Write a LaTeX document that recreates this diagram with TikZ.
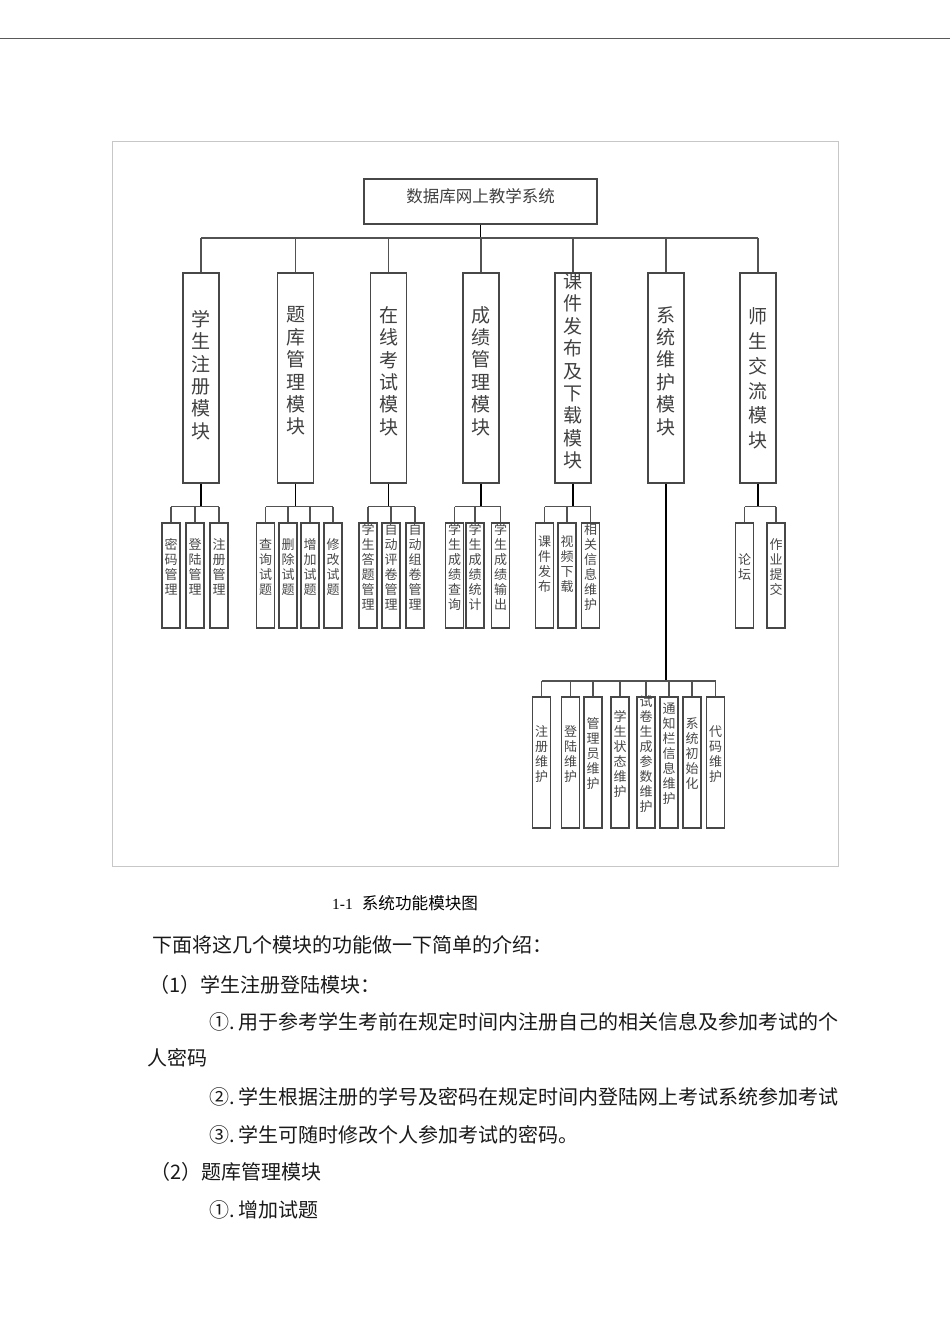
\documentclass[tikz,border=0pt]{standalone}
\usepackage{fontspec}
\setmainfont{Noto Sans CJK SC}
\newfontfamily\tnr{Liberation Serif}
\XeTeXlinebreaklocale "zh"
\XeTeXlinebreakskip=0pt plus 1pt
\tikzset{
  boxline/.style={draw=black!72, line width=1.3pt},
  titlebox/.style={boxline, minimum width=233pt, minimum height=45pt, inner sep=0pt,
    font=\fontsize{16.5}{18}\selectfont, text=black!75, text depth=12pt},
  modbox/.style={boxline, minimum width=36pt, minimum height=210pt, inner sep=0pt},
  modtext/.style={inner sep=0pt, text width=22pt, align=center,
    font=\fontsize{19}{22.4}\selectfont, text=black!75},
  leafbox/.style={boxline, line width=1.2pt, minimum width=18pt, inner sep=0pt},
  leaftext/.style={inner sep=0pt, text width=15pt, align=center,
    font=\fontsize{13}{15}\selectfont, text=black!72},
  thinline/.style={draw=black!68, line width=1.3pt},
  stemline/.style={draw=black, line width=1.8pt},
  bodytext/.style={anchor=west, inner sep=0pt, font=\fontsize{20}{24}\selectfont, text=black!90},
}
\newcommand\topleaf[4][567]{%
  \node[leafbox, minimum height=105pt] (#2) at (#3,575.5) {};
  \node[leaftext] (#2t) at (#3,#1) {#4};}
\newcommand\lowleaf[3]{%
  \node[leafbox, minimum height=131pt] (#1) at (#2,762.5) {};
  \node[leaftext] (#1t) at (#2,754) {#3};}
\newcommand\module[4]{%
  \node[modbox] (#1) at (#2,378) {};
  \node[modtext] (#1t) at (#2,#3) {#4};}
\begin{document}
\begin{tikzpicture}[x=1pt,y=-1pt]
\useasboundingbox (0,0) rectangle (950,1344);
% page rule and figure frame
\coordinate (ruleL) at (0,38.5);
\coordinate (ruleR) at (950,38.5);
\draw[draw=black!65, line width=1.8pt] (ruleL) -- (ruleR);
\node[draw=black!22, line width=0.9pt, minimum width=725.5pt, minimum height=725pt, inner sep=0pt] (frame) at (475.25,503.5) {};

% root
\node[titlebox] (root) at (480.5,201.5) {数据库网上教学系统};

% modules
\module{m1}{201}{375}{学生注册模块}
\module{m2}{295.5}{371}{题库管理模块}
\module{m3}{388.5}{371}{在线考试模块}
\module{m4}{481}{371}{成绩管理模块}
\module{m5}{573}{371}{课件发布及下载模块}
\module{m6}{666}{371}{系统维护模块}
\node[modbox] (m7) at (758,378) {};
\node[modtext, font=\fontsize{19}{24.7}\selectfont] (m7t) at (758,378.5) {师生交流模块};

% main bus
\coordinate (bus) at (0,238);
\draw[stemline] (root.south) -- (root.south |- bus);
\draw[thinline] (m1.north |- bus) -- (m7.north |- bus);
\foreach \m in {m1,m2,m3,m4,m5,m6,m7}
  \draw[thinline] (\m.north) -- (\m.north |- bus);

% leaves
\topleaf{a1}{171}{密码管理}
\topleaf{a2}{195}{登陆管理}
\topleaf{a3}{219}{注册管理}
\topleaf{b1}{265.5}{查询试题}
\topleaf{b2}{288}{删除试题}
\topleaf{b3}{310}{增加试题}
\topleaf{b4}{333}{修改试题}
\topleaf{c1}{368}{学生答题管理}
\topleaf{c2}{391}{自动评卷管理}
\topleaf{c3}{415}{自动组卷管理}
\topleaf{d1}{454.5}{学生成绩查询}
\topleaf{d2}{475}{学生成绩统计}
\topleaf{d3}{500.5}{学生成绩输出}
\topleaf[564]{e1}{544.5}{课件发布}
\topleaf[564]{e2}{567}{视频下载}
\topleaf{e3}{590.5}{相关信息维护}
\topleaf{g1}{744.5}{论坛}
\topleaf{g2}{776}{作业提交}
\lowleaf{f1}{541.5}{注册维护}
\lowleaf{f2}{570.5}{登陆维护}
\lowleaf{f3}{593}{管理员维护}
\lowleaf{f4}{620}{学生状态维护}
\lowleaf{f5}{646}{试卷生成参数维护}
\lowleaf{f6}{669}{通知栏信息维护}
\lowleaf{f7}{692}{系统初始化}
\lowleaf{f8}{715.5}{代码维护}

% sub buses
\coordinate (sb) at (0,506.5);
\coordinate (sbf) at (0,681);
\foreach \m/\first/\last/\list in {m1/a1/a3/{a1,a2,a3}, m2/b1/b4/{b1,b2,b3,b4},
    m3/c1/c3/{c1,c2,c3}, m4/d1/d3/{d1,d2,d3}, m5/e1/e3/{e1,e2,e3}, m7/g1/g2/{g1,g2}} {
  \draw[stemline] (\m.south) -- (\m.south |- sb);
  \draw[thinline] (\first.north |- sb) -- (\last.north |- sb);
  \foreach \l in \list
    \draw[thinline] (\l.north) -- (\l.north |- sb);
}
\draw[stemline] (m6.south) -- (m6.south |- sbf);
\draw[thinline] (f1.north |- sbf) -- (f8.north |- sbf);
\foreach \l in {f1,f2,f3,f4,f5,f6,f7,f8}
  \draw[thinline] (\l.north) -- (\l.north |- sbf);

% caption and body text
\node[anchor=west, inner sep=0pt, font=\fontsize{16.6}{18}\selectfont] (cap) at (332,903)
  {{\tnr\fontsize{15.5}{18}\selectfont 1-1}\hspace{9pt}系统功能模块图};
\node[bodytext] (t1) at (152,945) {下面将这几个模块的功能做一下简单的介绍：};
\node[bodytext] (t2) at (149,985) {（1）学生注册登陆模块：};
\node[bodytext] (t3) at (209,1022) {①.\hspace{4pt}用于参考学生考前在规定时间内注册自己的相关信息及参加考试的个};
\node[bodytext] (t4) at (147,1058) {人密码};
\node[bodytext] (t5) at (209,1097) {②.\hspace{4pt}学生根据注册的学号及密码在规定时间内登陆网上考试系统参加考试};
\node[bodytext] (t6) at (209,1135) {③.\hspace{4pt}学生可随时修改个人参加考试的密码。};
\node[bodytext] (t7) at (150,1172) {（2）题库管理模块};
\node[bodytext] (t8) at (209,1210) {①.\hspace{4pt}增加试题};
\end{tikzpicture}
\end{document}
